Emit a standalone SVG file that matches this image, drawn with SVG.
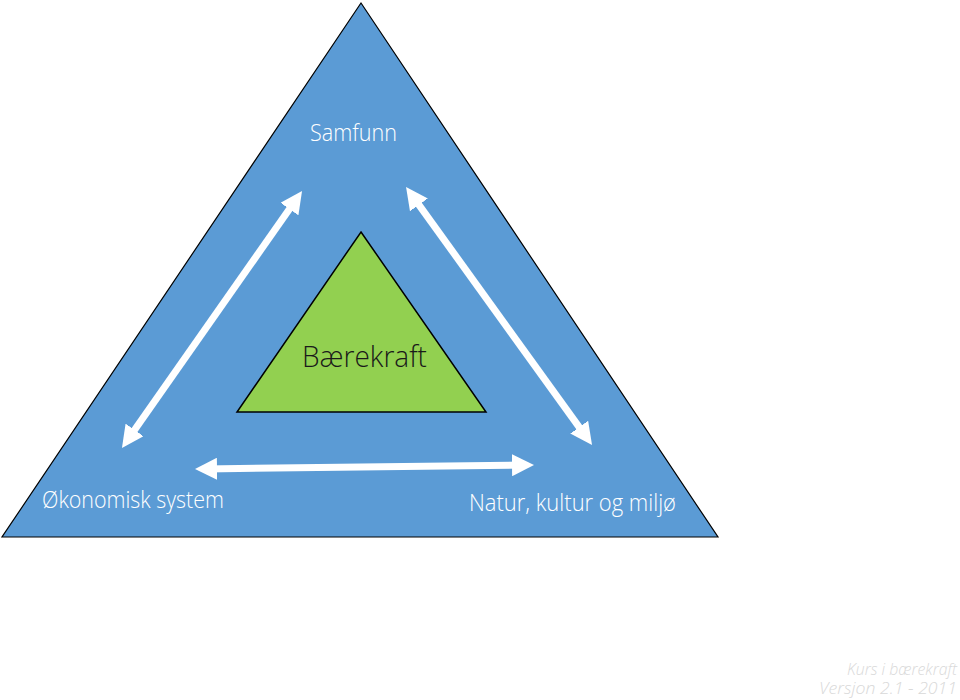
<svg xmlns="http://www.w3.org/2000/svg" width="960" height="700" viewBox="0 0 960 700">
<defs>
<style>
.lbl{font-family:"Open Sans","Liberation Sans",sans-serif;font-weight:300;fill:#ffffff}
.core{font-family:"Open Sans","Liberation Sans",sans-serif;font-weight:300;fill:#1a1a1a}
.foot{font-family:"Open Sans","Liberation Sans",sans-serif;font-style:italic;font-weight:300;fill:#d9d9d9;font-size:16px}
.arr{stroke:#ffffff;stroke-width:7;fill:none;marker-start:url(#ah);marker-end:url(#ah)}
</style>
<marker id="ah" markerUnits="userSpaceOnUse" markerWidth="22" markerHeight="22" viewBox="0 -11 22 22" refX="12" refY="0" orient="auto-start-reverse">
<path d="M0,-11 L22,0 L0,11 z" fill="#ffffff"/>
</marker>
</defs>
<rect width="960" height="700" fill="#ffffff"/>
<g id="outer">
<polygon points="361,3 718,537 2,537" fill="#5b9bd5" stroke="#000000" stroke-width="1.2"/>
</g>
<g id="samfunn"><text class="lbl" x="353.5" y="141" font-size="23" text-anchor="middle" textLength="87" lengthAdjust="spacingAndGlyphs">Samfunn</text></g>
<g id="okonomi"><text class="lbl" x="42" y="508" font-size="23" textLength="182" lengthAdjust="spacingAndGlyphs">Økonomisk system</text></g>
<g id="natur"><text class="lbl" x="469" y="511" font-size="23" textLength="207" lengthAdjust="spacingAndGlyphs">Natur, kultur og miljø</text></g>
<g id="baerekraft">
<polygon points="361,232 486,412 237,412" fill="#92d050" stroke="#000000" stroke-width="1.5"/>
<text class="core" x="364.5" y="367" font-size="29" text-anchor="middle" textLength="125" lengthAdjust="spacingAndGlyphs">Bærekraft</text>
</g>
<g id="connectors">
<line class="arr" x1="127.7" y1="439.8" x2="296.3" y2="199.2"/>
<line class="arr" x1="411.9" y1="195.1" x2="586.2" y2="436.9"/>
<line class="arr" x1="205" y1="468.9" x2="524" y2="465.1"/>
</g>
<g id="footer">
<text class="foot" text-anchor="end"><tspan x="957" y="675" textLength="110" lengthAdjust="spacingAndGlyphs">Kurs i bærekraft</tspan><tspan x="957" y="694" textLength="138" lengthAdjust="spacingAndGlyphs">Versjon 2.1 - 2011</tspan></text>
</g>
</svg>
